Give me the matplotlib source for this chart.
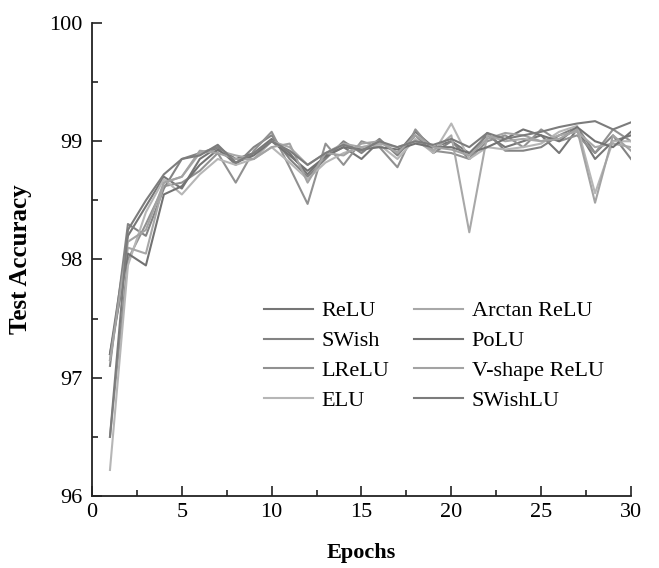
import numpy as np
import matplotlib
matplotlib.use("Agg")
import matplotlib.pyplot as plt
from matplotlib.ticker import MultipleLocator

epochs = list(range(1, 31))

relu = [97.2, 98.2, 98.45, 98.7, 98.6, 98.85, 98.95, 98.85, 98.9, 99.02, 98.9, 98.72, 98.88, 98.95, 98.85,
        99.0, 98.9, 99.08, 98.95, 99.0, 98.9, 99.05, 98.95, 99.0, 99.05, 98.9, 99.1, 98.85, 99.0, 99.05]
arctan_relu = [97.15, 98.1, 98.05, 98.65, 98.7, 98.9, 98.92, 98.88, 98.85, 99.0, 98.95, 98.8, 98.9, 98.98, 98.95,
               98.98, 98.95, 99.0, 98.92, 99.05, 98.23, 99.05, 99.0, 99.02, 99.0, 99.05, 99.08, 98.95, 98.98, 98.95]
swish = [97.1, 98.3, 98.2, 98.6, 98.85, 98.9, 98.95, 98.8, 98.95, 99.05, 98.85, 98.7, 98.85, 99.0, 98.9,
         99.02, 98.88, 99.05, 98.9, 99.0, 98.85, 99.07, 98.92, 98.92, 98.95, 99.05, 99.12, 98.9, 99.05, 98.85]
polu = [97.2, 98.05, 97.95, 98.55, 98.62, 98.8, 98.93, 98.82, 98.88, 99.0, 98.88, 98.75, 98.87, 98.95, 98.93,
        98.95, 98.93, 98.98, 98.95, 98.95, 98.9, 98.95, 99.02, 99.1, 99.05, 99.0, 99.12, 99.0, 98.95, 99.08]
lrelu = [96.5, 98.0, 98.3, 98.62, 98.65, 98.75, 98.9, 98.65, 98.92, 99.08, 98.78, 98.47, 98.98, 98.8, 99.0,
         98.95, 98.78, 99.1, 98.92, 98.9, 98.85, 99.0, 99.05, 98.95, 99.1, 99.0, 99.05, 98.9, 99.1, 99.0]
vshape_relu = [97.15, 98.15, 98.25, 98.65, 98.7, 98.92, 98.9, 98.85, 98.85, 98.95, 98.98, 98.65, 98.9, 98.88, 98.98,
               99.0, 98.9, 99.05, 98.95, 98.93, 98.88, 99.02, 99.07, 99.05, 99.0, 99.02, 99.1, 98.48, 99.05, 98.92]
elu = [96.22, 97.95, 98.4, 98.68, 98.55, 98.72, 98.85, 98.8, 98.85, 98.95, 98.82, 98.68, 98.82, 98.9, 98.95,
       98.97, 98.85, 99.02, 98.9, 99.15, 98.85, 98.95, 98.93, 98.95, 98.98, 99.08, 99.13, 98.56, 99.0, 99.0]
swishlu = [96.5, 98.25, 98.5, 98.72, 98.85, 98.88, 98.97, 98.82, 98.9, 99.0, 98.92, 98.8, 98.9, 98.97, 98.92,
           99.0, 98.95, 99.0, 98.97, 99.02, 98.95, 99.07, 99.02, 99.05, 99.08, 99.12, 99.15, 99.17, 99.1, 99.16]

# legend order is column-wise: left column first, then right
series = [
    ("ReLU", relu, "#767676"),
    ("SWish", swish, "#838383"),
    ("LReLU", lrelu, "#919191"),
    ("ELU", elu, "#b6b6b6"),
    ("Arctan ReLU", arctan_relu, "#a8a8a8"),
    ("PoLU", polu, "#727272"),
    ("V-shape ReLU", vshape_relu, "#a3a3a3"),
    ("SWishLU", swishlu, "#7c7c7c"),
]

plt.rcParams['font.family'] = ['Liberation Serif', 'DejaVu Serif']

fig = plt.figure(figsize=(6.59, 5.68), dpi=100)
ax = fig.add_axes([0.1396, 0.1268, 0.8179, 0.8327])

for name, vals, col in series:
    ax.plot(epochs, vals, color=col, linewidth=1.5, label=name)

ax.set_xlim(0, 30)
ax.set_ylim(96, 100)
ax.xaxis.set_major_locator(MultipleLocator(5))
ax.xaxis.set_minor_locator(MultipleLocator(2.5))
ax.yaxis.set_major_locator(MultipleLocator(1))
ax.yaxis.set_minor_locator(MultipleLocator(0.5))
ax.tick_params(which='both', direction='in', labelsize=16, width=1.2, color='#222222')
ax.tick_params(which='major', length=7)
ax.tick_params(which='minor', length=4)
ax.tick_params(axis='x', pad=5)
ax.tick_params(axis='y', pad=7)

for side in ['top', 'right']:
    ax.spines[side].set_visible(False)
for side in ['left', 'bottom']:
    ax.spines[side].set_linewidth(1.3)
    ax.spines[side].set_color('#222222')

ax.set_xlabel("Epochs", fontsize=16, fontweight='bold', labelpad=15)
ax.set_ylabel("Test Accuracy", fontsize=18, fontweight='bold', labelpad=12)

ax.legend(ncol=2, loc='center', bbox_to_anchor=(0.634, 0.296), frameon=False, fontsize=16,
          handlelength=2.2, handletextpad=0.4, columnspacing=1.1, labelspacing=0.42)

fig.savefig("out.png", dpi=100)
